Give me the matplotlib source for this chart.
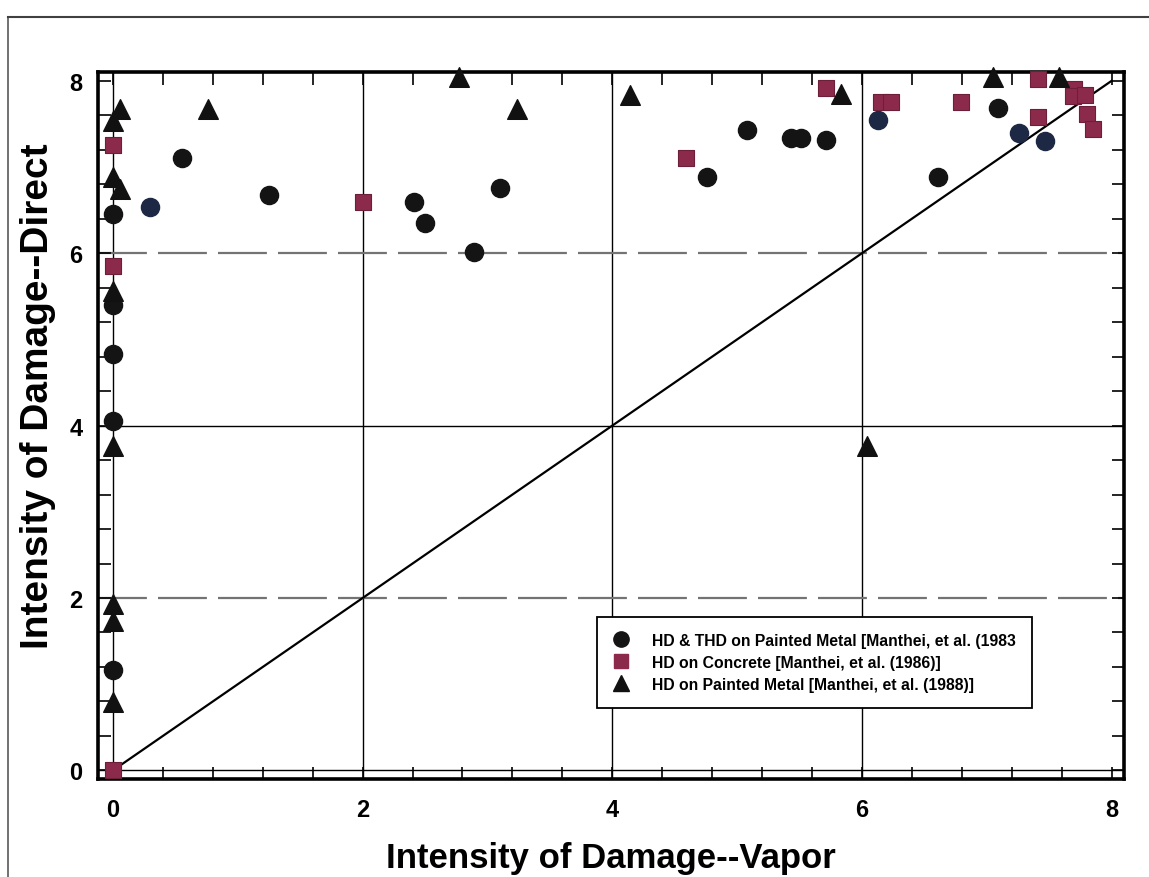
import matplotlib
matplotlib.use("Agg")
import matplotlib.pyplot as plt
from matplotlib.ticker import MultipleLocator
from matplotlib.lines import Line2D
import numpy as np

plt.rcParams['font.family'] = ['Liberation Sans', 'DejaVu Sans']
plt.rcParams['font.weight'] = 'bold'

# HD & THD on painted metal (black circles; a few print dark blue)
circ_x = [0, 0, 0, 0, 0, 0.55, 1.25, 2.41, 2.50, 2.89, 3.10, 4.76, 5.08,
          5.43, 5.51, 5.71, 6.61, 7.09]
circ_y = [6.45, 5.40, 4.83, 4.05, 1.16, 7.10, 6.67, 6.60, 6.35, 6.02, 6.76,
          6.89, 7.43, 7.34, 7.34, 7.31, 6.89, 7.68]
navy_x = [0.30, 6.13, 7.26, 7.47]
navy_y = [6.54, 7.54, 7.39, 7.30]

# HD on concrete (squares)
sq_x = [0, 0, 0, 2.0, 4.59, 5.71, 6.15, 6.23, 6.79, 7.41, 7.41, 7.70, 7.69,
        7.79, 7.80, 7.85]
sq_y = [7.26, 5.85, 0.0, 6.59, 7.10, 7.92, 7.76, 7.76, 7.76, 7.58, 8.02,
        7.90, 7.82, 7.83, 7.61, 7.44]

# HD on painted metal 1988 (triangles)
tri_x = [0.06, 0, 0, 0.06, 0, 0, 0, 0, 0, 0.76, 2.77, 3.24, 4.14, 5.83,
         6.04, 7.05, 7.58]
tri_y = [7.67, 7.53, 6.88, 6.74, 5.56, 3.76, 1.93, 1.73, 0.79, 7.67, 8.04,
         7.67, 7.84, 7.85, 3.76, 8.04, 8.04]

labels = ["HD & THD on Painted Metal [Manthei, et al. (1983",
          "HD on Concrete [Manthei, et al. (1986)]",
          "HD on Painted Metal [Manthei, et al. (1988)]"]

fig = plt.figure(figsize=(11.49, 8.78), dpi=100)
ax = fig.add_axes([0.0853, 0.1116, 0.893, 0.805])

# page border seen in the scan
fig.add_artist(Line2D([0.007, 0.007], [0.0, 0.979], color='0.35', lw=1.2))
fig.add_artist(Line2D([0.007, 1.0], [0.979, 0.979], color='0.25', lw=1.5))

ax.set_xlim(-0.12, 8.1)
ax.set_ylim(-0.1, 8.1)

# grid
for v in [0, 2, 4, 6]:
    ax.axvline(v, color='black', lw=1.0, zorder=1)
ax.axhline(0, color='black', lw=1.0, zorder=1)
ax.axhline(4, color='black', lw=1.0, zorder=1)
for h in [2, 6]:
    ax.axhline(h, color='0.45', lw=1.6, dashes=(22, 5), zorder=1)

ax.plot([0, 8], [0, 8], color='black', lw=1.6, zorder=2)

ax.scatter(circ_x, circ_y, s=170, marker='o', color='#141414', zorder=3, clip_on=False)
ax.scatter(navy_x, navy_y, s=170, marker='o', color='#1d2845', zorder=3, clip_on=False)
ax.scatter(sq_x, sq_y, s=125, marker='s', color='#8c2a4b', edgecolors='#6d1f39',
           linewidths=0.8, zorder=4, clip_on=False)
ax.scatter(tri_x, tri_y, s=200, marker='^', color='#111111', zorder=5, clip_on=False)

for sp in ax.spines.values():
    sp.set_linewidth(2.6)

ax.xaxis.set_major_locator(MultipleLocator(2))
ax.yaxis.set_major_locator(MultipleLocator(2))
ax.xaxis.set_minor_locator(MultipleLocator(0.4))
ax.yaxis.set_minor_locator(MultipleLocator(0.4))
ax.tick_params(which='both', direction='in', top=True, right=True,
               length=9, width=1.2)
ax.tick_params(axis='x', which='major', labelsize=17, pad=14)
ax.tick_params(axis='y', which='major', labelsize=17, pad=11)

ax.set_xlabel("Intensity of Damage--Vapor", fontsize=25, fontweight='bold', labelpad=14)
ax.set_ylabel("Intensity of Damage--Direct", fontsize=28, fontweight='bold')
ax.yaxis.set_label_coords(-0.041, 0.543)

handles = [
    Line2D([], [], ls='none', marker='o', ms=11, color='#141414'),
    Line2D([], [], ls='none', marker='s', ms=9.5, color='#8c2a4b'),
    Line2D([], [], ls='none', marker='^', ms=11, color='#111111'),
]
leg = ax.legend(handles, labels, loc='upper left',
                bbox_to_anchor=(597 / 1149, 1 - 618 / 878),
                bbox_transform=fig.transFigure, fontsize=11.3, frameon=True,
                framealpha=1.0, fancybox=False, edgecolor='black', borderpad=1.0,
                labelspacing=0.45, handlelength=1.0, handletextpad=1.5,
                borderaxespad=0)
leg.get_frame().set_linewidth(1.3)
leg.set_zorder(10)
for t in leg.get_texts():
    t.set_fontweight('bold')

fig.savefig("out.png", dpi=100)
